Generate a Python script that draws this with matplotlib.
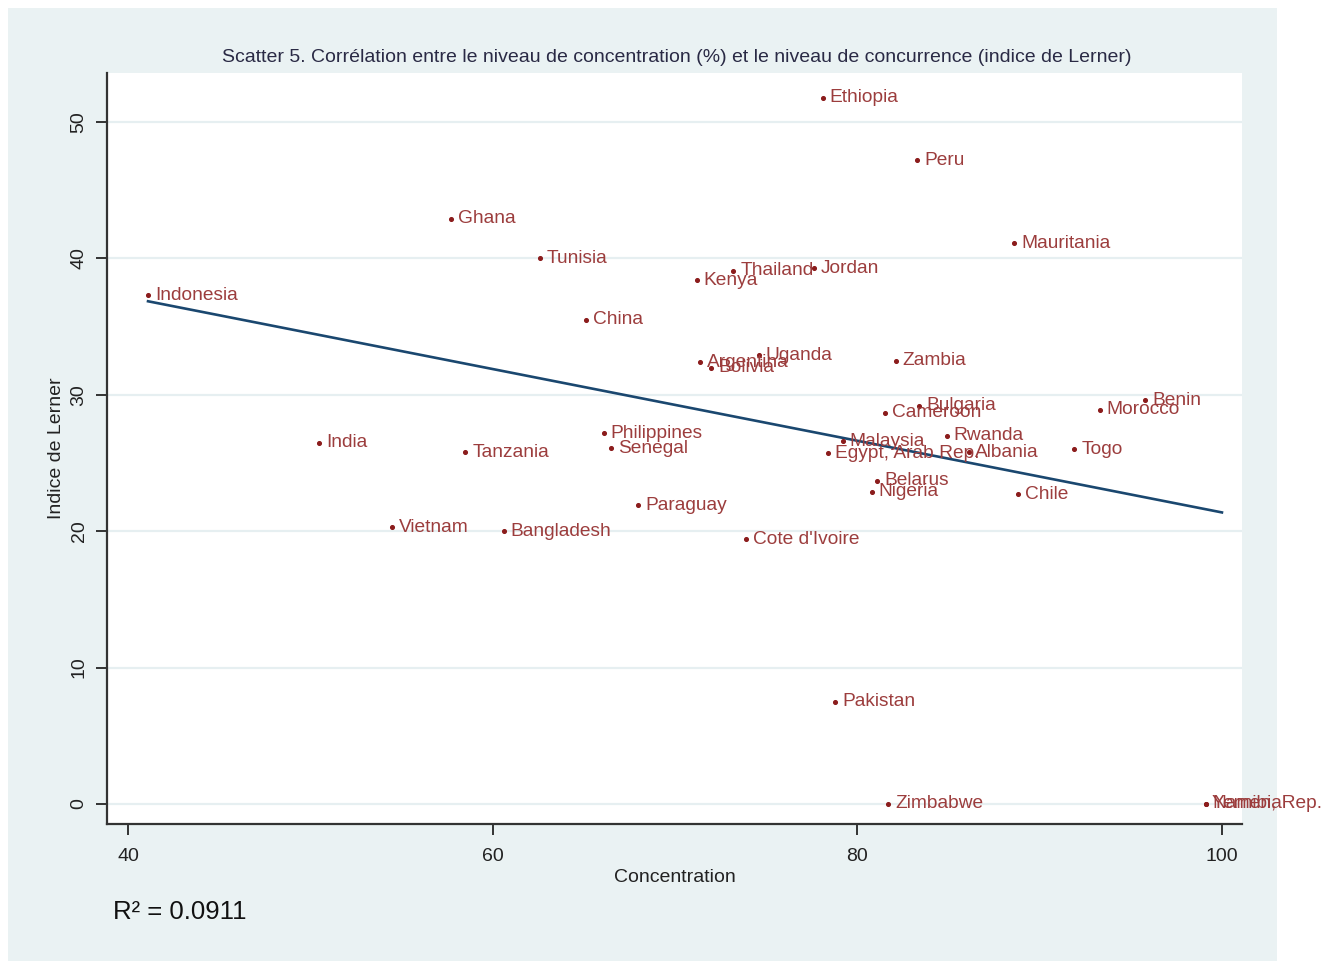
import numpy as np
import matplotlib
matplotlib.use("Agg")
import matplotlib.pyplot as plt
from matplotlib.patches import Rectangle

plt.rcParams['font.family'] = ['Liberation Sans', 'DejaVu Sans']

# Country observations: concentration (%) and Lerner index
countries = ["Ethiopia", "Peru", "Ghana", "Tunisia", "Mauritania", "Thailand", "Jordan",
             "Kenya", "Indonesia", "China", "Argentina", "Uganda", "Bolivia", "Zambia",
             "Cameroon", "Bulgaria", "Morocco", "Benin", "India", "Philippines", "Senegal",
             "Tanzania", "Malaysia", "Egypt, Arab Rep.", "Rwanda", "Albania", "Togo",
             "Belarus", "Nigeria", "Chile", "Paraguay", "Vietnam", "Bangladesh",
             "Cote d'Ivoire", "Pakistan", "Zimbabwe", "Namibia", "Yemen, Rep."]
concentration = [78.1, 83.3, 57.7, 62.6, 88.6, 73.2, 77.6,
                 71.2, 41.1, 65.1, 71.4, 74.6, 72.0, 82.1,
                 81.5, 83.4, 93.3, 95.8, 50.5, 66.1, 66.5,
                 58.5, 79.2, 78.4, 84.9, 86.1, 91.9,
                 81.1, 80.8, 88.8, 68.0, 54.5, 60.6,
                 73.9, 78.8, 81.7, 99.1, 99.1]
lerner = [51.8, 47.2, 42.9, 40.0, 41.1, 39.1, 39.3,
          38.4, 37.3, 35.5, 32.4, 32.9, 32.0, 32.5,
          28.7, 29.2, 28.9, 29.6, 26.5, 27.2, 26.1,
          25.8, 26.6, 25.7, 27.0, 25.8, 26.0,
          23.7, 22.9, 22.7, 21.9, 20.3, 20.0,
          19.4, 7.5, 0.0, 0.0, 0.0]

x_ticks = [40, 60, 80, 100]
y_ticks = [0, 10, 20, 30, 40, 50]
fit_upper = 100
r_squared_text = "R\u00b2 = 0.0911"

x = np.array(concentration)
y = np.array(lerner)
slope, intercept = np.polyfit(x, y, 1)
fit_x = np.array([x.min(), fit_upper])
fit_y = intercept + slope * fit_x

W, H = 1342, 961
fig = plt.figure(figsize=(W / 100, H / 100), dpi=100, facecolor="white")
bg = "#eaf2f3"
fig.patches.append(Rectangle((8 / W, 0), (1277 - 8) / W, (961 - 8) / H,
                             transform=fig.transFigure, facecolor=bg,
                             edgecolor="none", zorder=-10))

ax = fig.add_axes([107 / W, 1 - 824 / H, (1242 - 107) / W, (824 - 73) / H])
ax.set_facecolor("white")
ax.set_xlim(38.85, 101.1)
ax.set_ylim(-1.47, 53.6)

for s in ["top", "right"]:
    ax.spines[s].set_visible(False)
for s in ["left", "bottom"]:
    ax.spines[s].set_color("#333333")
    ax.spines[s].set_linewidth(1.6)

ax.set_xticks(x_ticks)
ax.set_yticks(y_ticks)
ax.tick_params(axis="both", length=8, width=1.4, color="#333333",
               labelsize=14, labelcolor="#222222")
ax.tick_params(axis="x", pad=9)
ax.tick_params(axis="y", pad=6)
for lab in ax.get_yticklabels():
    lab.set_rotation(90)
    lab.set_va("center")
ax.grid(axis="y", color="#e6eff1", linewidth=1.6)
ax.set_axisbelow(True)

ax.scatter(x, y, s=7, color="#8b1c1c", zorder=3)
for name, xi, yi in zip(countries, concentration, lerner):
    ax.annotate(name, (xi, yi), xytext=(5, 0), textcoords="offset points",
                va="center", ha="left", fontsize=13.8, color="#9c3d3d",
                annotation_clip=False, zorder=4)

ax.plot(fit_x, fit_y, color="#1a476f", linewidth=1.9, zorder=2)

ax.set_xlabel("Concentration", fontsize=14, color="#222222", labelpad=3)
ax.set_ylabel("Indice de Lerner", fontsize=14, color="#222222", labelpad=4)

fig.text(677 / W, 1 - 58 / H,
         "Scatter 5. Corrélation entre le niveau de concentration (%) et le niveau de concurrence (indice de Lerner)",
         ha="center", va="center", fontsize=14, color="#2a2a45")
fig.text(113 / W, 1 - 912 / H, r_squared_text, ha="left", va="center",
         fontsize=18.5, color="#111111")

fig.savefig("out.png", dpi=100, facecolor="white")
